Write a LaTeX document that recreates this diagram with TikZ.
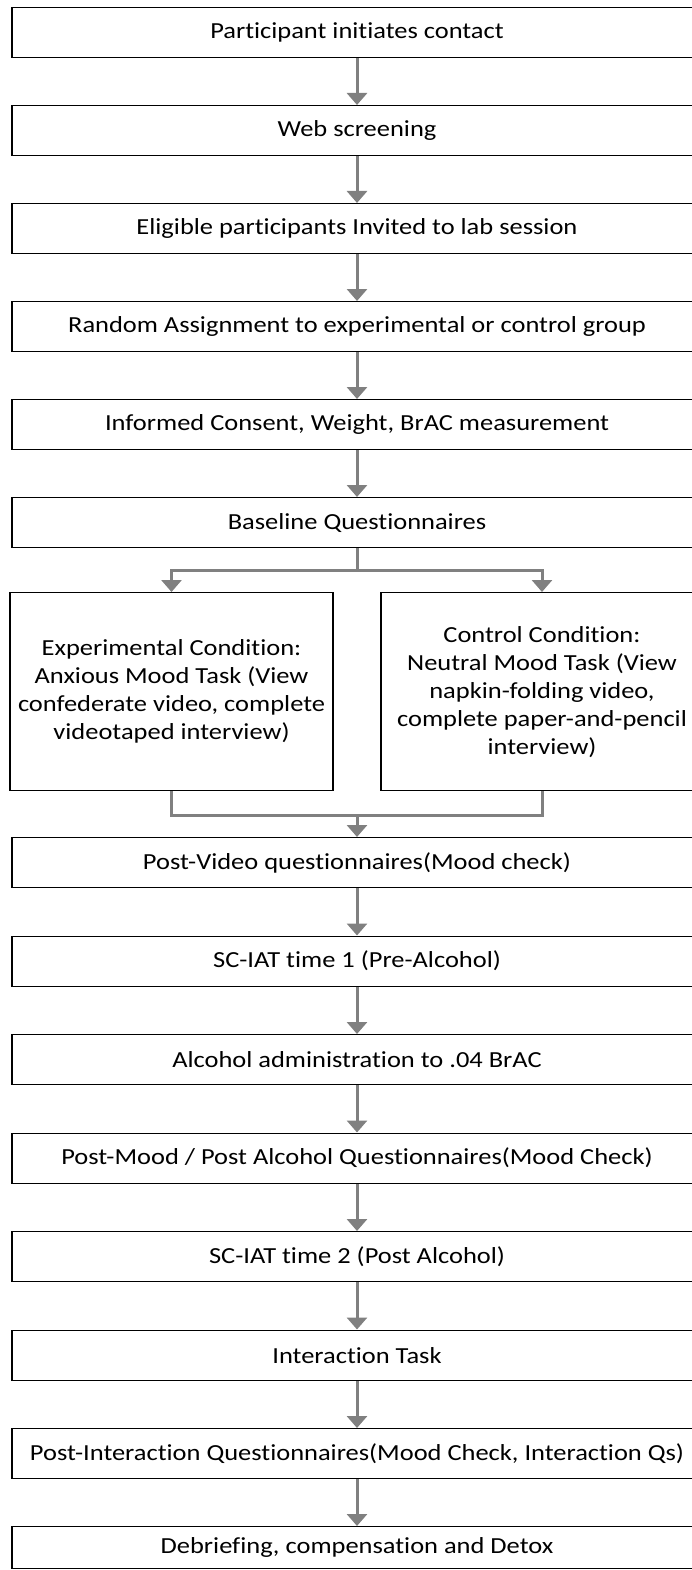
\documentclass[tikz,border=0pt]{standalone}
\usepackage{fontspec}
\setmainfont{Carlito}[Ligatures=NoCommon, FakeStretch=1.15]
\usetikzlibrary{arrows.meta,positioning}
\definecolor{flowgray}{RGB}{128,128,128}

\begin{document}
\begin{tikzpicture}[x=1pt, y=-1pt,
    stepbox/.style={draw, line width=1.3pt, minimum width=690pt, minimum height=50pt,
        inner sep=0pt, anchor=north, font=\fontsize{23}{28}\selectfont},
    condbox/.style={draw, line width=1.3pt, minimum height=198pt, inner sep=0pt,
        anchor=north, align=center, font=\fontsize{23}{28}\selectfont},
    flowline/.style={draw=flowgray, line width=3pt},
    flowarrow/.style={flowline, -{Triangle[width=20pt,length=12pt]}}]
    \useasboundingbox (0,0) rectangle (692,1570);

    % Steps before the split
    \node[stepbox] (contact)   at (357,7)   {Participant initiates contact};
    \node[stepbox] (webscreen) at (357,105) {Web screening};
    \node[stepbox] (invite)    at (357,203) {Eligible participants Invited to lab session};
    \node[stepbox] (assign)    at (357,301) {Random Assignment to experimental or control group};
    \node[stepbox] (consent)   at (357,399) {Informed Consent, Weight, BrAC measurement};
    \node[stepbox] (baseline)  at (357,497) {Baseline Questionnaires};

    % The two conditions
    \node[condbox, minimum width=323pt] (expcond) at (171.5,592)
        {Experimental Condition:\\ Anxious Mood Task (View\\ confederate video, complete\\ videotaped interview)};
    \node[condbox, minimum width=322pt] (ctrlcond) at (542,592)
        {Control Condition:\\ Neutral Mood Task (View\\ napkin-folding video,\\ complete paper-and-pencil\\ interview)};

    % Steps after the merge
    \node[stepbox] (postvideo)    at (357,837)    {Post-Video questionnaires(Mood check)};
    \node[stepbox] (iatpre)       at (357,935.5)  {SC-IAT time 1 (Pre-Alcohol)};
    \node[stepbox] (alcohol)      at (357,1034)   {Alcohol administration to .04 BrAC};
    \node[stepbox] (postmood)     at (357,1132.5) {Post-Mood / Post Alcohol Questionnaires(Mood Check)};
    \node[stepbox] (iatpost)      at (357,1231)   {SC-IAT time 2 (Post Alcohol)};
    \node[stepbox] (interact)     at (357,1329.5) {Interaction Task};
    \node[stepbox] (postinteract) at (357,1428)   {Post-Interaction Questionnaires(Mood Check, Interaction Qs)};
    \node[stepbox, minimum height=42pt] (debrief) at (357,1526) {Debriefing, compensation and Detox};

    % Arrows
    \draw[flowarrow] (contact) -- (webscreen);
    \draw[flowarrow] (webscreen) -- (invite);
    \draw[flowarrow] (invite) -- (assign);
    \draw[flowarrow] (assign) -- (consent);
    \draw[flowarrow] (consent) -- (baseline);

    % Split and merge
    \coordinate (split) at (357,570);
    \coordinate (merge) at (357,815);
    \draw[flowline] (baseline) -- (split);
    \draw[flowarrow] (split) -| (expcond.north);
    \draw[flowarrow] (split) -| (ctrlcond.north);
    \draw[flowline] (expcond.south) |- (merge);
    \draw[flowline] (ctrlcond.south) |- (merge);
    \draw[flowarrow] (merge) -- (postvideo);

    \draw[flowarrow] (postvideo) -- (iatpre);
    \draw[flowarrow] (iatpre) -- (alcohol);
    \draw[flowarrow] (alcohol) -- (postmood);
    \draw[flowarrow] (postmood) -- (iatpost);
    \draw[flowarrow] (iatpost) -- (interact);
    \draw[flowarrow] (interact) -- (postinteract);
    \draw[flowarrow] (postinteract) -- (debrief);
\end{tikzpicture}
\end{document}
